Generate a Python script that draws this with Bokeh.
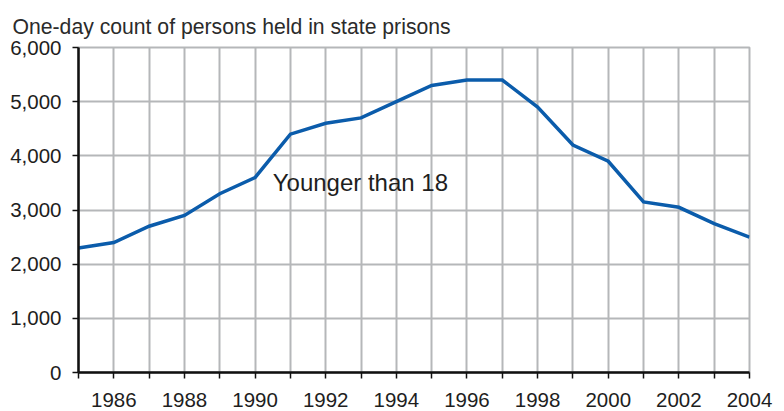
from bokeh.plotting import figure
from bokeh.models import FixedTicker, NumeralTickFormatter, Range1d, Label
from bokeh.embed import file_html
from bokeh.resources import INLINE

years = list(range(1985, 2005))
counts = [2300, 2400, 2700, 2900, 3300, 3600, 4400, 4600, 4700, 5000,
          5300, 5400, 5400, 4900, 4200, 3900, 3150, 3050, 2750, 2500]
y_ticks = [0, 1000, 2000, 3000, 4000, 5000, 6000]
x_label_years = list(range(1986, 2005, 2))
title_text = "One-day count of persons held in state prisons"
series_label = "Younger than 18"

FONT = "Liberation Sans"
GRID = "#b5b7b9"

p = figure(width=784, height=411, output_backend="svg", toolbar_location=None,
           x_range=Range1d(1985, 2004), y_range=Range1d(0, 6000),
           min_border_left=78, min_border_right=35, min_border_top=47,
           min_border_bottom=39)

p.title.text = title_text
p.title.text_font = FONT
p.title.text_font_size = "21.2px"
p.title.text_font_style = "normal"
p.title.text_color = "#2b2b2b"
p.title.align = "left"
p.title.offset = -66
p.title.standoff = 19

p.outline_line_color = GRID
p.outline_line_width = 2
p.background_fill_color = "white"
p.border_fill_color = "white"

p.xgrid.ticker = FixedTicker(ticks=years)
p.xgrid.grid_line_color = GRID
p.xgrid.grid_line_width = 2
p.ygrid.grid_line_color = GRID
p.ygrid.grid_line_width = 2

p.xaxis.ticker = FixedTicker(ticks=years)
p.xaxis.major_label_overrides = {y: (str(y) if y in x_label_years else "") for y in years}
p.yaxis.ticker = FixedTicker(ticks=y_ticks)
p.ygrid.ticker = FixedTicker(ticks=y_ticks)
p.yaxis.formatter = NumeralTickFormatter(format="0,0")

for ax in (p.xaxis, p.yaxis):
    ax.axis_line_color = "#111111"
    ax.axis_line_width = 2.5
    ax.major_tick_line_color = "#111111"
    ax.major_tick_line_width = 1.5
    ax.major_tick_out = 6
    ax.major_tick_in = 0
    ax.minor_tick_line_color = None
    ax.major_label_text_font = FONT
    ax.major_label_text_font_size = "20.5px"
    ax.major_label_text_color = "#1e1e1e"

p.xaxis.major_label_standoff = 14
p.yaxis.major_label_standoff = 11

p.line(years, counts, line_color="#0b5cab", line_width=3.5, line_join="miter")

lbl = Label(x=1990.5, y=3500, text=series_label, text_font=FONT,
            text_font_size="24px", text_color="#1e1e1e", text_baseline="alphabetic")
p.add_layout(lbl)

open("out.html", "w").write(file_html(p, INLINE))
